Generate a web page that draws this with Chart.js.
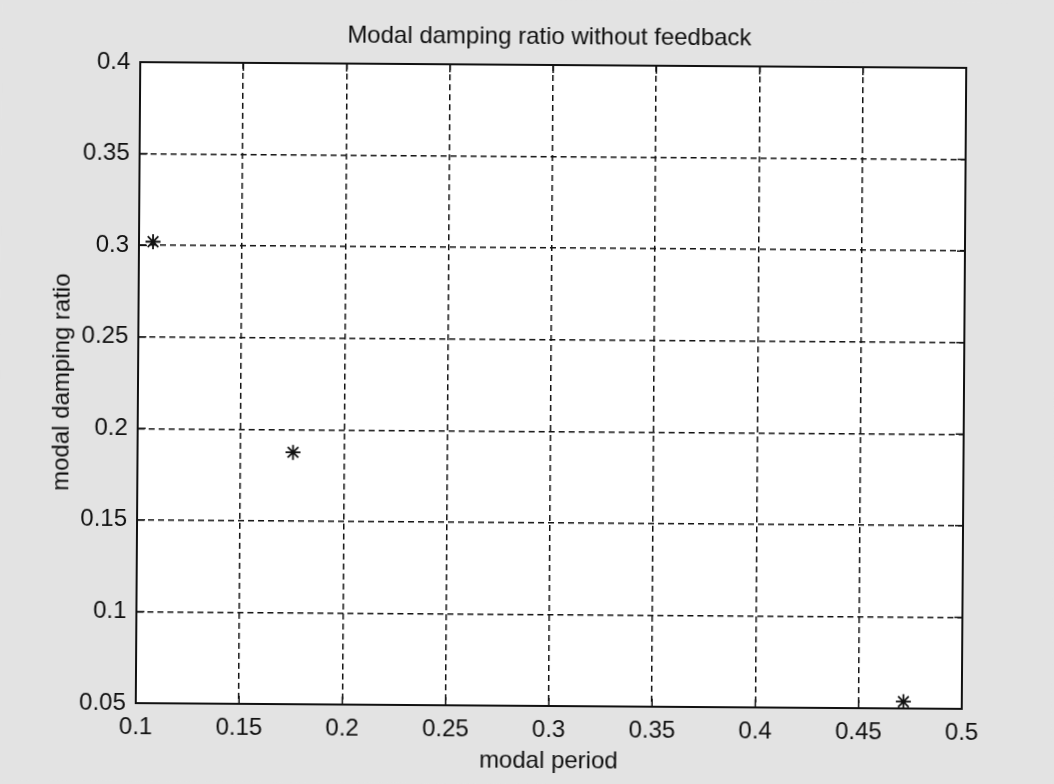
<!DOCTYPE html>
<html>
<head>
<meta charset="utf-8">
<script src="https://cdn.jsdelivr.net/npm/chart.js@4/dist/chart.umd.min.js"></script>
<style>
  html, body { margin: 0; padding: 0; background: #e3e3e3; overflow: hidden; }
  #wrap { width: 1054px; height: 784px; }
  #c { display: block; transform-origin: 551px 386px; transform: rotate(0.4deg); }
</style>
</head>
<body>
<div id="wrap"><canvas id="c" width="1054" height="784"></canvas></div>
<script>
const chartTitle = "Modal damping ratio without feedback";
const xTitle = "modal period";
const yTitle = "modal damping ratio";
const modalPeriod = [0.1068, 0.1753, 0.4717];
const dampingRatio = [0.3020, 0.1875, 0.0537];
const xTicks = [0.1, 0.15, 0.2, 0.25, 0.3, 0.35, 0.4, 0.45, 0.5];
const yTicks = [0.05, 0.1, 0.15, 0.2, 0.25, 0.3, 0.35, 0.4];

const points = modalPeriod.map((x, i) => ({ x: x, y: dampingRatio[i] }));
const fmt = v => String(Number(v.toFixed(3)));
const FONT = 'Liberation Sans';
const BG = '#e3e3e3';
const INK = '#111111';

const framePlugin = {
  id: 'frame',
  beforeDraw(chart) {
    const ctx = chart.ctx;
    ctx.save();
    ctx.fillStyle = BG;
    ctx.fillRect(-50, -50, chart.width + 100, chart.height + 100);
    const a = chart.chartArea;
    ctx.fillStyle = '#ffffff';
    ctx.fillRect(a.left, a.top, a.right - a.left, a.bottom - a.top);
    ctx.restore();
  },
  afterDraw(chart) {
    const ctx = chart.ctx;
    const a = chart.chartArea;
    const xs = chart.scales.x, ys = chart.scales.y;
    ctx.save();
    ctx.strokeStyle = INK;
    ctx.setLineDash([]);
    // inward tick marks on all four sides
    ctx.lineWidth = 1.5;
    const tl = 8;
    ctx.beginPath();
    xTicks.forEach(v => {
      const px = xs.getPixelForValue(v);
      ctx.moveTo(px, a.bottom); ctx.lineTo(px, a.bottom - tl);
      ctx.moveTo(px, a.top); ctx.lineTo(px, a.top + tl);
    });
    yTicks.forEach(v => {
      const py = ys.getPixelForValue(v);
      ctx.moveTo(a.left, py); ctx.lineTo(a.left + tl, py);
      ctx.moveTo(a.right, py); ctx.lineTo(a.right - tl, py);
    });
    ctx.stroke();
    // frame
    ctx.lineWidth = 2;
    ctx.strokeRect(a.left, a.top, a.right - a.left, a.bottom - a.top);
    // title centred over the plot area
    ctx.fillStyle = INK;
    ctx.font = '24px "' + FONT + '"';
    ctx.textAlign = 'center';
    ctx.textBaseline = 'alphabetic';
    ctx.fillText(chartTitle, (a.left + a.right) / 2 - 4, a.top - 21);
    ctx.restore();
  }
};

new Chart(document.getElementById('c'), {
  type: 'scatter',
  data: {
    datasets: [{
      data: points,
      pointStyle: 'star',
      radius: 7.5,
      borderColor: INK,
      backgroundColor: INK,
      borderWidth: 1.8,
      showLine: false
    }]
  },
  options: {
    responsive: false,
    animation: false,
    devicePixelRatio: 1,
    layout: { padding: { left: 0, right: 90, top: 65, bottom: 0 } },
    plugins: {
      legend: { display: false },
      tooltip: { enabled: false },
      title: { display: false }
    },
    scales: {
      x: {
        type: 'linear',
        min: 0.1, max: 0.5,
        afterBuildTicks: s => { s.ticks = xTicks.map(v => ({ value: v })); },
        afterFit: s => { s.height = 78; },
        ticks: {
          color: INK,
          font: { family: FONT, size: 24 },
          padding: 10,
          maxRotation: 0,
          autoSkip: false,
          callback: v => fmt(v)
        },
        grid: { color: INK, lineWidth: 1.5, drawTicks: false, tickLength: 0 },
        border: { display: true, color: INK, width: 2, dash: [6, 4] },
        title: {
          display: true, text: xTitle, color: INK,
          font: { family: FONT, size: 24 },
          padding: { top: 0, bottom: 8 }
        }
      },
      y: {
        type: 'linear',
        min: 0.05, max: 0.4,
        afterBuildTicks: s => { s.ticks = yTicks.map(v => ({ value: v })); },
        afterFit: s => { s.width = 138; },
        ticks: {
          color: INK,
          font: { family: FONT, size: 24 },
          padding: 10,
          autoSkip: false,
          callback: v => fmt(v)
        },
        grid: { color: INK, lineWidth: 1.5, drawTicks: false, tickLength: 0 },
        border: { display: true, color: INK, width: 2, dash: [6, 4] },
        title: {
          display: true, text: yTitle, color: INK,
          font: { family: FONT, size: 24 },
          padding: { top: 48, bottom: 0 }
        }
      }
    }
  },
  plugins: [framePlugin]
});
</script>
</body>
</html>
